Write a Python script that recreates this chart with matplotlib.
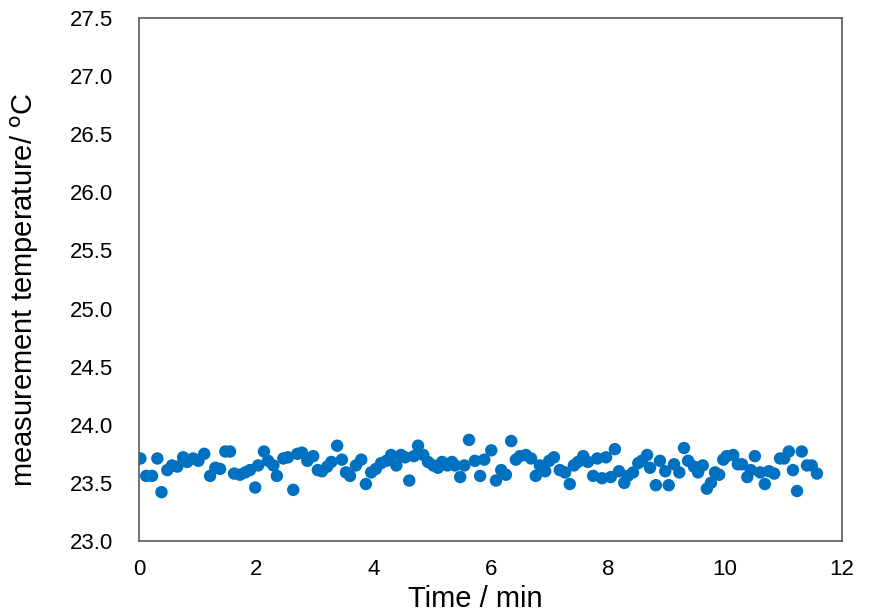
import matplotlib.pyplot as plt

plt.rcParams['font.family'] = ['Liberation Sans', 'DejaVu Sans']

time_min = [
    0.02, 0.12, 0.22, 0.31, 0.38, 0.48, 0.56, 0.65, 0.75, 0.82,
    0.92, 1.01, 1.11, 1.21, 1.30, 1.38, 1.47, 1.55, 1.62, 1.72,
    1.81, 1.89, 1.98, 2.03, 2.13, 2.20, 2.29, 2.35, 2.46, 2.54,
    2.63, 2.70, 2.78, 2.87, 2.97, 3.05, 3.12, 3.21, 3.28, 3.38,
    3.46, 3.53, 3.60, 3.70, 3.79, 3.87, 3.96, 4.04, 4.13, 4.22,
    4.30, 4.39, 4.47, 4.54, 4.61, 4.69, 4.76, 4.85, 4.93, 5.02,
    5.10, 5.17, 5.26, 5.34, 5.39, 5.48, 5.55, 5.63, 5.73, 5.82,
    5.89, 6.01, 6.09, 6.18, 6.26, 6.35, 6.43, 6.50, 6.60, 6.69,
    6.77, 6.84, 6.93, 7.00, 7.08, 7.18, 7.27, 7.35, 7.42, 7.49,
    7.58, 7.66, 7.75, 7.82, 7.90, 7.97, 8.05, 8.12, 8.19, 8.28,
    8.34, 8.43, 8.52, 8.58, 8.67, 8.72, 8.82, 8.89, 8.98, 9.04,
    9.13, 9.22, 9.30, 9.37, 9.47, 9.54, 9.62, 9.69, 9.76, 9.83,
    9.90, 9.97, 10.03, 10.14, 10.22, 10.29, 10.38, 10.44, 10.51, 10.60,
    10.68, 10.75, 10.84, 10.94, 11.01, 11.09, 11.16, 11.23, 11.31, 11.40,
    11.48, 11.57,
]

temperature = [
    23.71, 23.56, 23.56, 23.71, 23.42, 23.61, 23.65, 23.64, 23.72, 23.68,
    23.71, 23.69, 23.75, 23.56, 23.63, 23.62, 23.77, 23.77, 23.58, 23.57,
    23.59, 23.61, 23.46, 23.65, 23.77, 23.69, 23.65, 23.56, 23.71, 23.72,
    23.44, 23.75, 23.76, 23.69, 23.73, 23.61, 23.60, 23.64, 23.68, 23.82,
    23.70, 23.59, 23.56, 23.65, 23.70, 23.49, 23.59, 23.62, 23.67, 23.69,
    23.74, 23.65, 23.74, 23.72, 23.52, 23.73, 23.82, 23.74, 23.68, 23.65,
    23.63, 23.68, 23.65, 23.68, 23.65, 23.55, 23.65, 23.87, 23.69, 23.56,
    23.70, 23.78, 23.52, 23.61, 23.57, 23.86, 23.70, 23.73, 23.74, 23.71,
    23.56, 23.65, 23.60, 23.69, 23.72, 23.61, 23.59, 23.49, 23.65, 23.68,
    23.73, 23.68, 23.56, 23.71, 23.54, 23.72, 23.55, 23.79, 23.60, 23.50,
    23.56, 23.59, 23.67, 23.69, 23.74, 23.63, 23.48, 23.69, 23.60, 23.48,
    23.66, 23.59, 23.80, 23.69, 23.64, 23.59, 23.65, 23.45, 23.50, 23.59,
    23.57, 23.70, 23.73, 23.74, 23.66, 23.66, 23.55, 23.61, 23.73, 23.59,
    23.49, 23.60, 23.58, 23.71, 23.71, 23.77, 23.61, 23.43, 23.77, 23.65,
    23.65, 23.58,
]

fig = plt.figure(figsize=(8.7, 6.13), dpi=100)
ax = fig.add_axes([0.16, 0.1175, 0.808, 0.853])

ax.scatter(time_min, temperature, s=80, color='#0070C0', edgecolors='none', zorder=3)

ax.set_xlim(0, 12)
ax.set_ylim(23.0, 27.5)
ax.set_xticks([0, 2, 4, 6, 8, 10, 12])
ax.set_yticks([23.0 + 0.5 * i for i in range(10)])
ax.set_yticklabels(['%.1f' % (23.0 + 0.5 * i) for i in range(10)])
ax.tick_params(length=0, labelsize=16)
ax.tick_params(axis='y', pad=19)
ax.tick_params(axis='x', pad=13)

for sp in ax.spines.values():
    sp.set_color('#595959')
    sp.set_linewidth(1.2)

ax.set_xlabel('Time / min', fontsize=21)
ax.set_ylabel('measurement temperature/ $^{\\mathrm{o}}$C', fontsize=21)
ax.xaxis.set_label_coords(0.478, -0.085)
ax.yaxis.set_label_coords(-0.14, 0.48)

fig.savefig('out.png', dpi=100)
